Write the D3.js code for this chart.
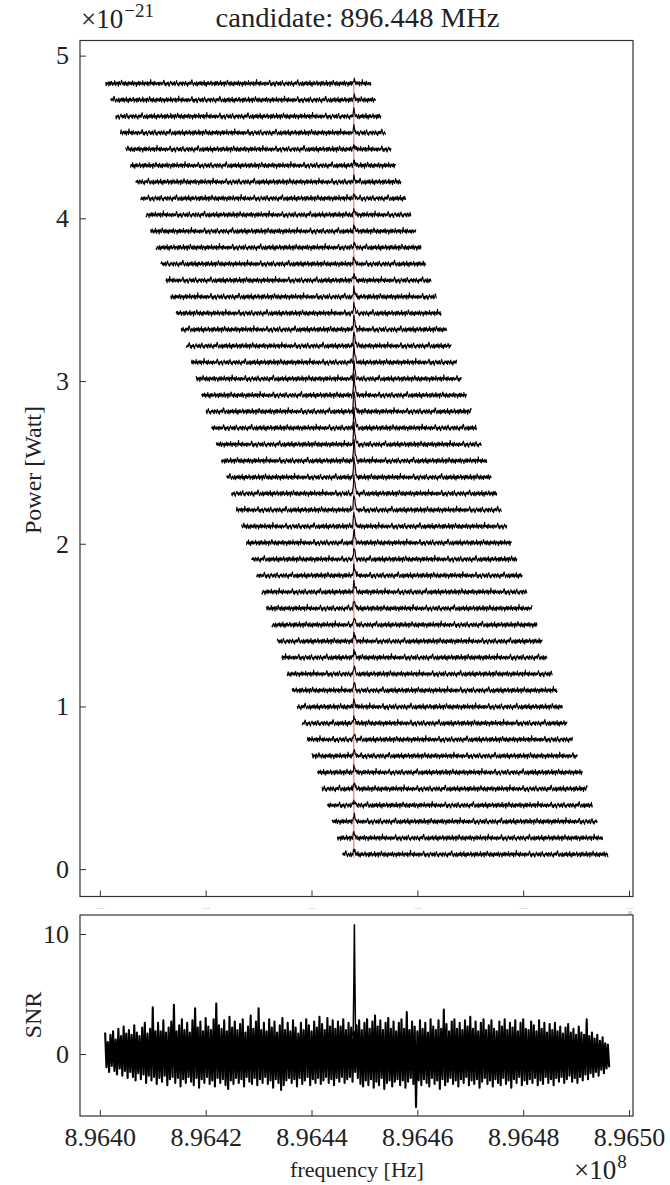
<!DOCTYPE html>
<html><head><meta charset="utf-8">
<script src="https://cdn.jsdelivr.net/npm/d3@7"></script>
<style>
body{margin:0;background:#fff}
text{font-family:"Liberation Serif","Times New Roman",serif;fill:#222}
</style>
</head><body>
<svg id="c" width="670" height="1185"></svg>
<script>
// ---------------- data ----------------
const originHz = 896400000;           // 8.9640e8 Hz, reference for kHz offsets
const xTicks = [896400000, 896420000, 896440000, 896460000, 896480000, 896500000];
const powerTicks = [0, 1, 2, 3, 4, 5];
const snrTicks = [0, 10];
const candidateHz = 896448000;
const candidateSpan = [0.071, 4.854];   // red marker extent, 1e-21 W

// stacked spectra: baseline power (1e-21 W) and start frequency (kHz above 896.40 MHz), bottom row first
const rowBase = [0.09,0.191,0.292,0.392,0.493,0.594,0.695,0.796,0.896,0.997,1.098,1.199,1.3,1.4,1.501,1.602,1.703,1.804,1.904,2.005,2.106,2.207,2.308,2.408,2.509,2.61,2.711,2.812,2.912,3.013,3.114,3.215,3.316,3.416,3.517,3.618,3.719,3.82,3.92,4.021,4.122,4.223,4.324,4.424,4.525,4.626,4.727,4.828];
const rowStartKHz = [45.8,44.85,43.89,42.94,41.99,41.03,40.08,39.13,38.18,37.22,36.27,35.32,34.36,33.41,32.46,31.5,30.55,29.6,28.65,27.69,26.74,25.79,24.83,23.88,22.93,21.97,21.02,20.07,19.12,18.16,17.21,16.26,15.3,14.35,13.4,12.44,11.49,10.54,9.59,8.63,7.68,6.73,5.77,4.82,3.87,2.91,1.96,1.01];
const rowWidthKHz = 50.2;
const rowStepKHz = 0.1;
const peakHeights = [0.03,0.03,0.035,0.03,0.04,0.035,0.04,0.035,0.04,0.04,0.045,0.04,0.045,0.05,0.05,0.055,0.06,0.06,0.07,0.08,0.09,0.10,0.11,0.12,0.13,0.13,0.12,0.13,0.12,0.11,0.10,0.09,0.08,0.06,0.05,0.04,0.035,0.03,0.03,0.03,0.025,0.03,0.03,0.025,0.03,0.03,0.025,0.02];
const peakShape = [0.15,0.5,1.0,0.8,0.55,0.35,0.2,0.1];   // relative, starting 0.2 kHz below candidate
const noiseAmp = 0.021;
const traceNoise = [0.1,-0.3,0.4,-0.6,0.2,0.5,-0.1,-0.4,0.3,0.0,
 -0.2,0.6,1.0,0.4,-0.5,0.2,-0.7,0.1,0.3,-0.2,
 0.5,-0.4,-0.8,0.0,0.3,0.7,-0.1,0.2,-0.5,0.4,
 -0.3,0.1,0.6,-0.6,-0.2,0.3,0.9,0.2,-0.4,0.1,
 -0.7,-0.2,0.4,0.0,0.5,-0.3,0.2,-0.6,0.6,0.1,
 0.3,-0.5,-0.1,0.7,0.2,-0.4,0.0,-0.8,0.4,0.3,
 -0.2,0.5,0.1,-0.3,0.8,1.1,0.3,-0.2,-0.6,0.1,
 0.4,-0.1,-0.5,0.2,0.6,-0.7,0.0,0.3,-0.4,0.5,
 0.2,-0.3,0.7,-0.1,-0.6,0.4,0.1,-0.2,0.9,-0.5,
 0.0,0.3,-0.8,0.2,0.5,-0.3,0.6,0.1,-0.4,0.2,
 -0.1,0.8,0.4,-0.6,0.3,-0.2,0.1,0.5,-0.7,0.0,
 0.6,-0.4,0.2,0.7,-0.1,-0.5,0.3,0.0,-0.3,0.9,
 0.2,-0.6,0.4,-0.2,0.1,0.5,-0.8,0.3,0.6,-0.1,
 -0.4,0.2,1.0,0.5,-0.3,0.0,0.4,-0.6,0.1,0.7,
 -0.2,-0.5,0.3,0.2,-0.7,0.6,-0.1,0.4,-0.3,0.0,
 0.5,-0.4,0.1,0.8,-0.2,-0.6,0.3,0.5,-0.1,0.2,
 -0.8,0.4,0.0,-0.3,0.7,0.1,-0.5,0.6,-0.2,0.3,
 0.1,-0.4,0.9,-0.1,0.2,-0.6,0.4,0.0,0.5,-0.3,
 -0.2,0.6,-0.7,0.3,0.1,0.4,-0.5,1.2,0.2,-0.1,
 0.3,-0.3,0.5,-0.6,0.0,0.7,-0.2,0.1,-0.4,0.4];

// SNR trace: upper and lower excursions every 0.5 kHz from 1.0 kHz to 96.0 kHz above 896.40 MHz
const snrStartKHz = 1.0;
const snrStepKHz = 0.5;
const snrHi = [1.8,1.0,1.6,1.9,1.2,2.1,1.5,2.3,1.7,2.0,
 1.6,2.4,1.8,1.5,2.2,2.6,1.7,2.1,3.9,1.9,
 2.6,1.9,2.8,1.8,2.2,2.7,4.1,1.9,2.4,2.9,
 2.0,2.6,1.8,2.8,3.8,2.2,2.7,1.9,3.0,2.3,
 2.0,2.9,4.2,2.4,2.1,2.8,1.9,3.1,2.2,2.7,
 2.0,2.5,2.9,1.8,2.3,3.2,2.1,2.7,3.8,2.0,
 2.6,1.9,2.9,2.2,2.7,1.8,2.4,3.0,2.0,2.6,
 1.9,2.8,2.2,1.7,2.6,2.0,2.9,2.4,1.9,2.7,
 2.2,3.1,2.5,2.0,3.0,2.3,2.8,2.1,2.7,2.3,
 2.9,2.0,2.6,2.2,1.9,2.4,2.8,2.0,2.6,2.9,
 2.1,2.7,3.2,2.3,2.8,2.0,2.6,3.0,2.1,2.7,
 1.9,2.6,2.9,2.1,3.5,2.0,2.7,2.3,1.9,2.8,
 2.1,2.6,1.8,2.9,2.3,2.0,2.8,2.1,3.7,2.5,
 1.9,2.7,2.9,2.1,2.6,2.0,2.8,2.3,3.1,2.1,
 2.7,1.9,2.6,2.9,2.0,2.4,2.8,2.1,1.9,2.7,
 2.3,2.9,2.0,2.6,2.2,2.8,1.9,2.6,2.9,2.1,
 2.0,2.7,2.4,1.9,2.8,2.1,2.6,1.8,2.5,2.0,
 2.6,1.9,2.3,1.7,2.2,2.5,1.8,2.1,1.6,2.3,
 1.8,1.6,2.9,1.5,1.8,1.3,1.6,1.1,1.4,0.9,
 0.8];
const snrLo = [-1.1,-1.5,-1.0,-1.4,-1.7,-1.2,-1.8,-1.4,-2.0,-1.5,
 -1.9,-2.2,-1.6,-2.1,-1.7,-2.4,-1.8,-2.2,-1.9,-2.5,
 -2.0,-2.3,-1.8,-2.6,-2.1,-1.9,-2.4,-2.0,-2.7,-2.1,
 -2.4,-1.9,-2.3,-2.6,-2.0,-2.8,-2.1,-2.4,-1.9,-2.5,
 -2.2,-2.7,-2.0,-2.4,-2.1,-2.6,-2.9,-2.2,-2.5,-2.0,
 -2.4,-2.1,-2.7,-1.9,-2.3,-2.5,-2.0,-2.6,-2.1,-2.4,
 -1.9,-2.5,-2.2,-2.8,-2.1,-2.4,-3.0,-2.6,-2.2,-2.0,
 -2.4,-2.1,-2.7,-2.0,-2.5,-2.2,-1.9,-2.6,-2.1,-2.4,
 -2.0,-2.5,-2.2,-1.9,-2.4,-2.1,-2.6,-2.0,-2.3,-1.9,
 -2.4,-2.1,-1.9,-2.3,-1.5,-2.0,-2.5,-2.7,-2.2,-2.6,
 -2.1,-2.8,-2.3,-2.6,-2.0,-2.9,-2.4,-2.2,-2.7,-2.3,
 -2.1,-2.6,-2.2,-2.8,-2.3,-2.0,-2.5,-4.4,-2.2,-2.6,
 -2.1,-2.4,-2.7,-2.0,-2.5,-2.2,-2.9,-2.1,-2.6,-2.3,
 -2.0,-2.5,-2.2,-2.7,-2.1,-2.4,-1.9,-2.6,-2.2,-2.5,
 -2.1,-2.8,-2.3,-2.0,-2.5,-2.2,-2.7,-2.1,-2.4,-2.6,
 -2.0,-2.5,-2.2,-2.8,-2.1,-2.4,-1.9,-2.6,-2.2,-2.5,
 -2.1,-2.4,-2.0,-2.6,-2.2,-2.5,-1.9,-2.4,-2.1,-2.6,
 -2.0,-2.3,-1.9,-2.4,-2.1,-1.8,-2.3,-2.0,-2.4,-1.9,
 -2.2,-1.7,-2.1,-1.6,-1.9,-1.5,-1.8,-1.3,-1.6,-1.2,
 -1.1];
const snrPeak = [[47.8,1.5],[47.9,2.4],[48.0,6.0],[48.1,10.8],[48.2,6.3],[48.3,2.4],[48.4,-1.2]];

// ---------------- layout ----------------
const svg = d3.select("#c");
const L = 80, R = 633;
const top1 = 40.5, bot1 = 896.5, top2 = 915, bot2 = 1116;
const ink = "#333";

const x = d3.scaleLinear().domain([896396250, 896500750]).range([L, R]);
const khz = k => originHz + k * 1000;
const yP = d3.scaleLinear().domain([-0.168, 5.093]).range([bot1, top1]);
const yS = d3.scaleLinear().domain([-5.16, 11.58]).range([bot2, top2]);

// ---------- top panel ----------
const g1 = svg.append("g");
g1.append("line")
  .attr("x1", x(candidateHz)).attr("x2", x(candidateHz))
  .attr("y1", yP(candidateSpan[0])).attr("y2", yP(candidateSpan[1]))
  .attr("stroke", "#ff2a2a").attr("stroke-opacity", 0.8).attr("stroke-width", 1);

const line1 = d3.line().x(d => x(khz(d[0]))).y(d => yP(d[1]));
const candJ = Math.round((candidateHz - originHz) / 1000 / rowStepKHz);
rowBase.forEach((b, k) => {
  const j0 = Math.ceil(rowStartKHz[k] / rowStepKHz);
  const j1 = Math.floor((rowStartKHz[k] + rowWidthKHz) / rowStepKHz);
  const pts = [];
  for (let j = j0; j <= j1; j++) {
    let v = b + noiseAmp * traceNoise[(j + k * 53) % traceNoise.length];
    const s = j - (candJ - 2);
    if (s >= 0 && s < peakShape.length) v += peakHeights[k] * peakShape[s];
    pts.push([j * rowStepKHz, v]);
  }
  g1.append("path").attr("d", line1(pts))
    .attr("fill", "none").attr("stroke", "#000").attr("stroke-width", 1.1)
    .attr("stroke-linejoin", "round");
});

// hidden (tiny) x tick labels of top panel
const ax1 = g1.append("g").attr("transform", `translate(0,${bot1})`)
  .call(d3.axisBottom(x).tickValues(xTicks).tickSize(-6).tickPadding(11)
    .tickFormat(d => (d / 1e8).toFixed(4)));
ax1.select(".domain").remove();
ax1.selectAll("line").attr("stroke", ink);
ax1.selectAll("text").style("font-size", "2.6px").style("fill", "#aaa");
g1.append("text").attr("x", 628).attr("y", 917).style("font-size", "8px").style("fill", "#999").text("8");

const ay1 = g1.append("g").attr("transform", `translate(${L},0)`)
  .call(d3.axisLeft(yP).tickValues(powerTicks).tickSize(-6).tickPadding(11).tickFormat(d3.format("d")));
ay1.select(".domain").remove();
ay1.selectAll("line").attr("stroke", ink);
ay1.selectAll("text").style("font-size", "26px");

g1.append("rect").attr("x", L).attr("y", top1).attr("width", R - L).attr("height", bot1 - top1)
  .attr("fill", "none").attr("stroke", ink).attr("stroke-width", 1.2);

// title & offset
svg.append("text").attr("x", 357.5).attr("y", 27).attr("text-anchor", "middle")
  .attr("textLength", 284).attr("lengthAdjust", "spacingAndGlyphs")
  .style("font-size", "27px").text("candidate: 896.448 MHz");
const off1 = svg.append("text").attr("x", 81).attr("y", 28).style("font-size", "27px");
off1.append("tspan").text("×10");
off1.append("tspan").attr("dy", -11).attr("dx", 1).style("font-size", "19px").text("−21");

svg.append("text").attr("transform", `translate(41,470) rotate(-90)`).attr("text-anchor", "middle")
  .style("font-size", "24px").text("Power [Watt]");

// ---------- bottom panel ----------
const g2 = svg.append("g");
g2.append("rect").attr("x", L).attr("y", top2).attr("width", R - L).attr("height", bot2 - top2).attr("fill", "#fff");

const zig = [];
snrHi.forEach((h, i) => {
  const f = snrStartKHz + i * snrStepKHz;
  zig.push([f, h]);
  if (i < snrLo.length) zig.push([f + snrStepKHz / 2, snrLo[i]]);
});
const line2 = d3.line().x(d => x(khz(d[0]))).y(d => yS(d[1]));
g2.append("path").attr("d", line2(zig)).attr("fill", "none").attr("stroke", "#000")
  .attr("stroke-width", 2.1).attr("stroke-linejoin", "round");
g2.append("path").attr("d", line2(snrPeak)).attr("fill", "none").attr("stroke", "#000")
  .attr("stroke-width", 1.5);

const ax2 = g2.append("g").attr("transform", `translate(0,${bot2})`)
  .call(d3.axisBottom(x).tickValues(xTicks).tickSize(-6).tickPadding(12)
    .tickFormat(d => (d / 1e8).toFixed(4)));
ax2.select(".domain").remove();
ax2.selectAll("line").attr("stroke", ink);
ax2.selectAll("text").style("font-size", "26px");

const ay2 = g2.append("g").attr("transform", `translate(${L},0)`)
  .call(d3.axisLeft(yS).tickValues(snrTicks).tickSize(-6).tickPadding(11).tickFormat(d3.format("d")));
ay2.select(".domain").remove();
ay2.selectAll("line").attr("stroke", ink);
ay2.selectAll("text").style("font-size", "26px");

g2.append("rect").attr("x", L).attr("y", top2).attr("width", R - L).attr("height", bot2 - top2)
  .attr("fill", "none").attr("stroke", ink).attr("stroke-width", 1.2);

svg.append("text").attr("x", 357).attr("y", 1177).attr("text-anchor", "middle")
  .style("font-size", "22px").text("frequency [Hz]");
const off2 = svg.append("text").attr("x", 574).attr("y", 1179).style("font-size", "27px");
off2.append("tspan").text("×10");
off2.append("tspan").attr("dy", -11).attr("dx", 1).style("font-size", "19px").text("8");

svg.append("text").attr("transform", `translate(41,1015) rotate(-90)`).attr("text-anchor", "middle")
  .style("font-size", "24px").text("SNR");
</script>
</body></html>
